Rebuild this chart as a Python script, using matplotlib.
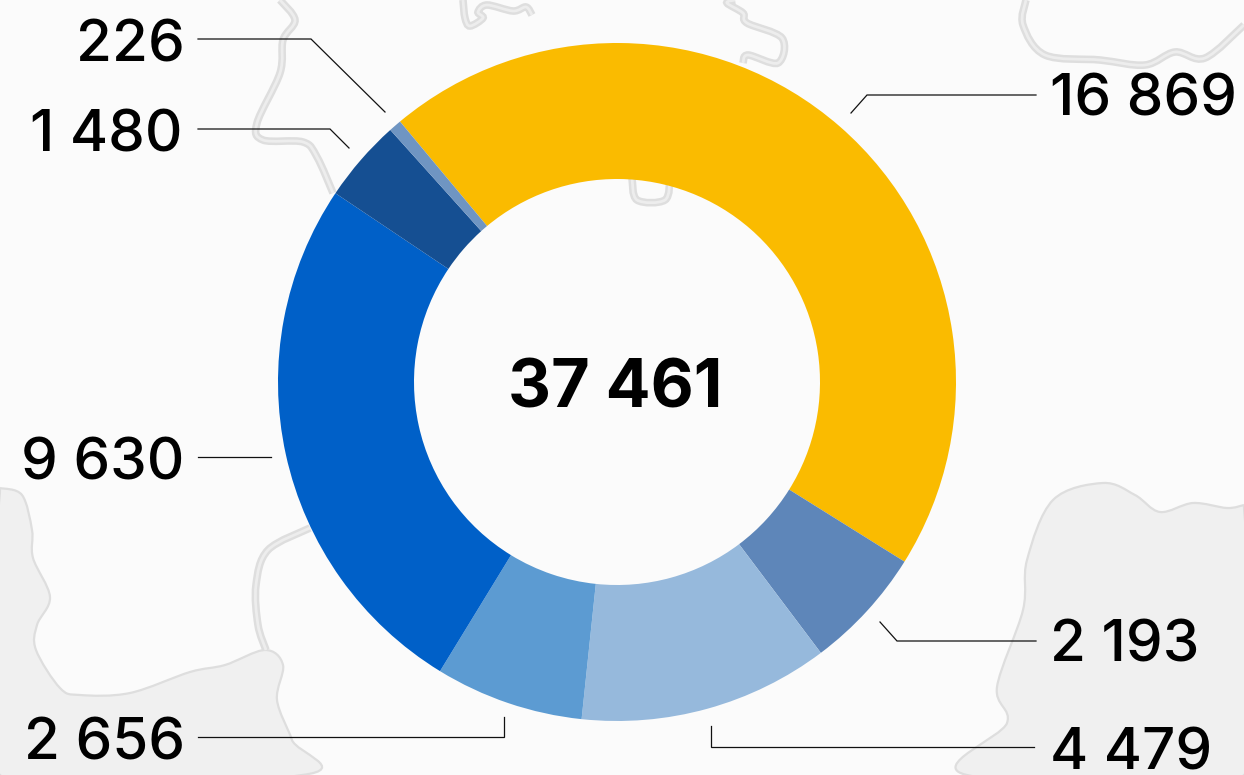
import matplotlib
matplotlib.use("Agg")
import matplotlib.pyplot as plt
from matplotlib.path import Path
from matplotlib.patches import PathPatch

# ---- data ----
values = [16869, 2193, 4479, 2656, 9630, 1480, 226]
labels = ["16 869", "2 193", "4 479", "2 656", "9 630", "1 480", "226"]
colors = ["#FABB00", "#5E86B9", "#96B9DC", "#5C9BD2", "#0060C8", "#154F92", "#6F95C2"]
total_label = "37 461"

W, H = 1244, 775
CX, CY, R_OUT, R_IN = 617, 382, 339, 203
START = 129.8

# label anchor (x, y centre) and alignment
label_pos = [(1050, 101, "left"), (1050, 647, "left"), (1050, 754, "left"),
             (185, 744, "right"), (184, 464, "right"), (183, 136, "right"), (185, 47, "right")]
leaders = [
    [(1036, 95), (867, 95), (851, 113)],
    [(1036, 641), (897, 641), (880, 622)],
    [(1034, 747), (711, 747), (711, 726)],
    [(198, 737), (504, 737), (504, 717)],
    [(198, 457), (271, 457)],
    [(198, 129), (330, 129), (349, 148)],
    [(198, 39), (311, 39), (385, 112)],
]

# background decoration (pixel coordinates)
BG = "#FBFBFB"
BLOB = "#F0F0F0"
EDGE = "#DEDEDE"
left_blob = [(0, 488), (22, 495), (32, 530), (33, 558), (50, 597), (37, 625), (36, 650),
             (60, 688), (80, 695), (130, 693), (190, 672), (225, 665), (265, 650),
             (283, 665), (277, 700), (292, 740), (302, 775), (0, 775), (0, 488)]
right_blob = [(1244, 505), (1227, 508), (1193, 503), (1160, 512), (1135, 495), (1103, 483), (1053, 500),
              (1027, 560), (1023, 610), (997, 687), (1007, 723), (967, 775), (1244, 775), (1244, 505)]
rivers = [
    [(280, 0), (295, 20), (283, 40), (280, 73), (257, 123), (263, 140), (303, 142),
     (317, 157), (333, 193)],
    [(463, 0), (465, 18), (470, 26), (483, 18), (478, 12), (487, 5), (513, 11), (526, 7), (532, 15)],
    [(735, 0), (727, 3), (743, 13), (747, 23), (782, 38), (778, 63), (748, 55), (743, 63)],
    [(1026, 0), (1023, 25), (1045, 55), (1100, 60), (1145, 65), (1175, 52), (1205, 58), (1244, 25)],
    [(310, 528), (268, 550), (256, 585), (258, 625), (266, 650)],
    [(632, 178), (637, 200), (665, 200), (670, 178)],
]


def smooth(points):
    """Catmull-Rom style smooth path through background outline points."""
    verts = [points[0]]
    codes = [Path.MOVETO]
    n = len(points)
    for i in range(n - 1):
        p0 = points[max(i - 1, 0)]
        p1 = points[i]
        p2 = points[i + 1]
        p3 = points[min(i + 2, n - 1)]
        c1 = (p1[0] + (p2[0] - p0[0]) / 6, p1[1] + (p2[1] - p0[1]) / 6)
        c2 = (p2[0] - (p3[0] - p1[0]) / 6, p2[1] - (p3[1] - p1[1]) / 6)
        verts += [c1, c2, p2]
        codes += [Path.CURVE4] * 3
    return Path(verts, codes)


plt.rcParams["font.family"] = ["Inter", "DejaVu Sans"]
fig = plt.figure(figsize=(W / 100, H / 100), dpi=100, facecolor=BG)

bg = fig.add_axes([0, 0, 1, 1], zorder=0)
bg.set_xlim(0, W)
bg.set_ylim(H, 0)
bg.axis("off")
for blob in (left_blob, right_blob):
    bg.add_patch(PathPatch(smooth(blob), facecolor=BLOB, edgecolor=EDGE, lw=1.6))
for river in rivers:
    bg.add_patch(PathPatch(smooth(river), facecolor="none", edgecolor=EDGE, lw=5.5))
    bg.add_patch(PathPatch(smooth(river), facecolor="none", edgecolor="#EDEDED", lw=2.0))

pie_ax = fig.add_axes([(CX - R_OUT) / W, 1 - (CY + R_OUT) / H, 2 * R_OUT / W, 2 * R_OUT / H], zorder=1)
pie_ax.pie(values, colors=colors, startangle=START, counterclock=False, radius=1,
           wedgeprops={"width": (R_OUT - R_IN) / R_OUT, "linewidth": 0})
pie_ax.set_xlim(-1, 1)
pie_ax.set_ylim(-1, 1)
pie_ax.axis("off")

ov = fig.add_axes([0, 0, 1, 1], zorder=2)
ov.set_xlim(0, W)
ov.set_ylim(H, 0)
ov.axis("off")
ov.patch.set_alpha(0)

for seg in leaders:
    xs, ys = zip(*seg)
    ov.plot(xs, ys, color="#111111", lw=0.9, solid_joinstyle="miter")
for text, (x, y, ha) in zip(labels, label_pos):
    ov.text(x, y, text, ha=ha, va="center", fontsize=42, fontweight="medium", color="black")
ov.text(CX - 2, 390, total_label, ha="center", va="center", fontsize=48, fontweight="bold", color="black")

fig.savefig("out.png", dpi=100, facecolor=BG)
